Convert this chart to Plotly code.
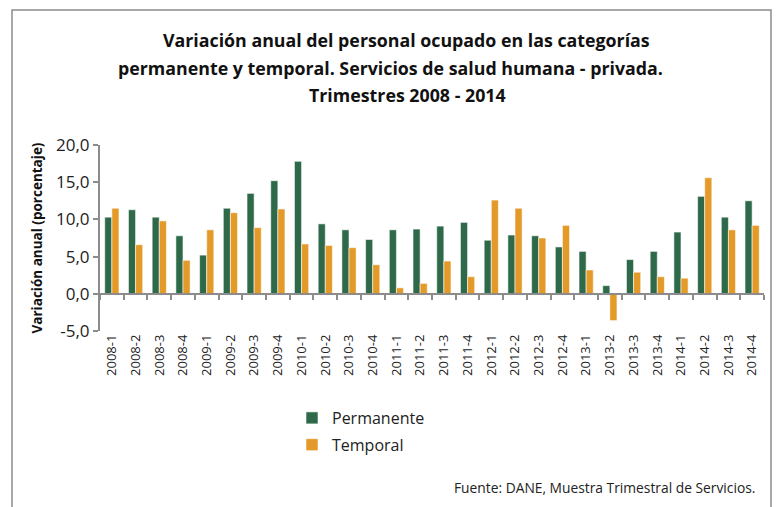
import plotly.graph_objects as go

categories = [f"{y}-{q}" for y in range(2008, 2015) for q in range(1, 5)]
permanente = [10.3, 11.3, 10.3, 7.8, 5.2, 11.5, 13.5, 15.2,
              17.8, 9.4, 8.6, 7.3, 8.6, 8.7, 9.1, 9.6,
              7.2, 7.9, 7.8, 6.3, 5.7, 1.1, 4.6, 5.7,
              8.3, 13.1, 10.3, 12.5]
temporal = [11.5, 6.6, 9.8, 4.5, 8.6, 10.9, 8.9, 11.4,
            6.7, 6.5, 6.2, 3.9, 0.8, 1.4, 4.4, 2.3,
            12.6, 11.5, 7.5, 9.2, 3.2, -3.6, 2.9, 2.3,
            2.1, 15.6, 8.6, 9.2]
ytick_vals = [-5, 0, 5, 10, 15, 20]
ytick_text = ["-5,0", "0,0", "5,0", "10,0", "15,0", "20,0"]
title_lines = ["Variación anual del personal ocupado en las categorías",
               "permanente y temporal. Servicios de salud humana - privada.",
               "Trimestres 2008 - 2014"]
y_min, y_max = -5, 20

FONT = "Open Sans"
OFF = 8  # page body margin
W, H = 784 - OFF, 507 - OFF
# plot area in page pixels: x 100..764, y 145..331
L = 100 - OFF
R = W - (764 - OFF)
T = 145 - OFF
B = H - (331 - OFF)
pw, ph = W - L - R, H - T - B


def px(x):  # page x -> paper
    return (x - OFF - L) / pw


def py(y):  # page y -> paper
    return (H - B - (y - OFF)) / ph


fig = go.Figure()
fig.add_trace(go.Bar(x=categories, y=permanente, name="Permanente", legendgroup="p",
                     marker=dict(color="#2E6A4A", line=dict(color="rgba(255,255,255,0.7)", width=0.8))))
fig.add_trace(go.Bar(x=categories, y=temporal, name="Temporal", legendgroup="t",
                     marker=dict(color="#E39A28", line=dict(color="rgba(255,255,255,0.7)", width=0.8))))
# invisible helper trace for the zero-line axis with boundary ticks
fig.add_trace(go.Scatter(x=categories, y=[0] * len(categories), xaxis="x2", yaxis="y",
                         mode="markers", marker=dict(opacity=0), showlegend=False, hoverinfo="skip"))

zero_pos = (0 - y_min) / (y_max - y_min)

fig.update_layout(
    width=W, height=H,
    margin=dict(l=L, r=R, t=T, b=B, autoexpand=False),
    paper_bgcolor="white", plot_bgcolor="white",
    barmode="group", bargap=0.4, bargroupgap=0.0,
    font=dict(family=FONT, color="#222222"),
    xaxis=dict(type="category", categoryarray=categories, showline=False, ticks="",
               tickangle=-90, tickfont=dict(size=13, color="#222"), showgrid=False,
               range=[-0.5, len(categories) - 0.5]),
    xaxis2=dict(type="category", categoryarray=categories, overlaying="x", anchor="free",
                position=zero_pos, side="bottom", showline=True, linecolor="#8c8c8c", linewidth=2,
                ticks="outside", tickson="boundaries", ticklen=5, tickcolor="#8c8c8c", tickwidth=2,
                showticklabels=False, showgrid=False, matches="x",
                range=[-0.5, len(categories) - 0.5]),
    yaxis=dict(range=[y_min, y_max], tickvals=ytick_vals, ticktext=ytick_text,
               showgrid=False, zeroline=False,
               showline=True, linecolor="#8c8c8c", linewidth=2, ticks="outside", ticklen=5,
               tickcolor="#8c8c8c", tickwidth=2, tickfont=dict(size=17, color="#222"),
               title=dict(text="<b>Variación anual (porcentaje)</b>", font=dict(size=13.5, color="#111"),
                          standoff=10)),
    legend=dict(x=px(292), y=py(401), xanchor="left", yanchor="top", orientation="v",
                font=dict(size=16, color="#222"), tracegroupgap=3, traceorder="grouped",
                itemwidth=30, bgcolor="rgba(0,0,0,0)"),
    showlegend=True,
)

title_centers = [406, 390, 407]
title_ys = [40, 68, 95]
for txt, cx, cy in zip(title_lines, title_centers, title_ys):
    fig.add_annotation(text=f"<b>{txt}</b>", x=px(cx), y=py(cy), xref="paper", yref="paper",
                       xanchor="center", yanchor="middle", showarrow=False,
                       font=dict(size=17.8, color="#111", family=FONT))

fig.add_annotation(text="Fuente: DANE, Muestra Trimestral de Servicios.", x=px(757), y=py(487),
                   xref="paper", yref="paper", xanchor="right", yanchor="middle", showarrow=False,
                   font=dict(size=13.8, color="#222", family=FONT))

fig.add_shape(type="rect", xref="paper", yref="paper", x0=px(12), x1=px(771), y0=py(530), y1=py(10),
              line=dict(color="#8c8c8c", width=1.5), fillcolor="rgba(0,0,0,0)", layer="below")

fig.write_html("out.html")
